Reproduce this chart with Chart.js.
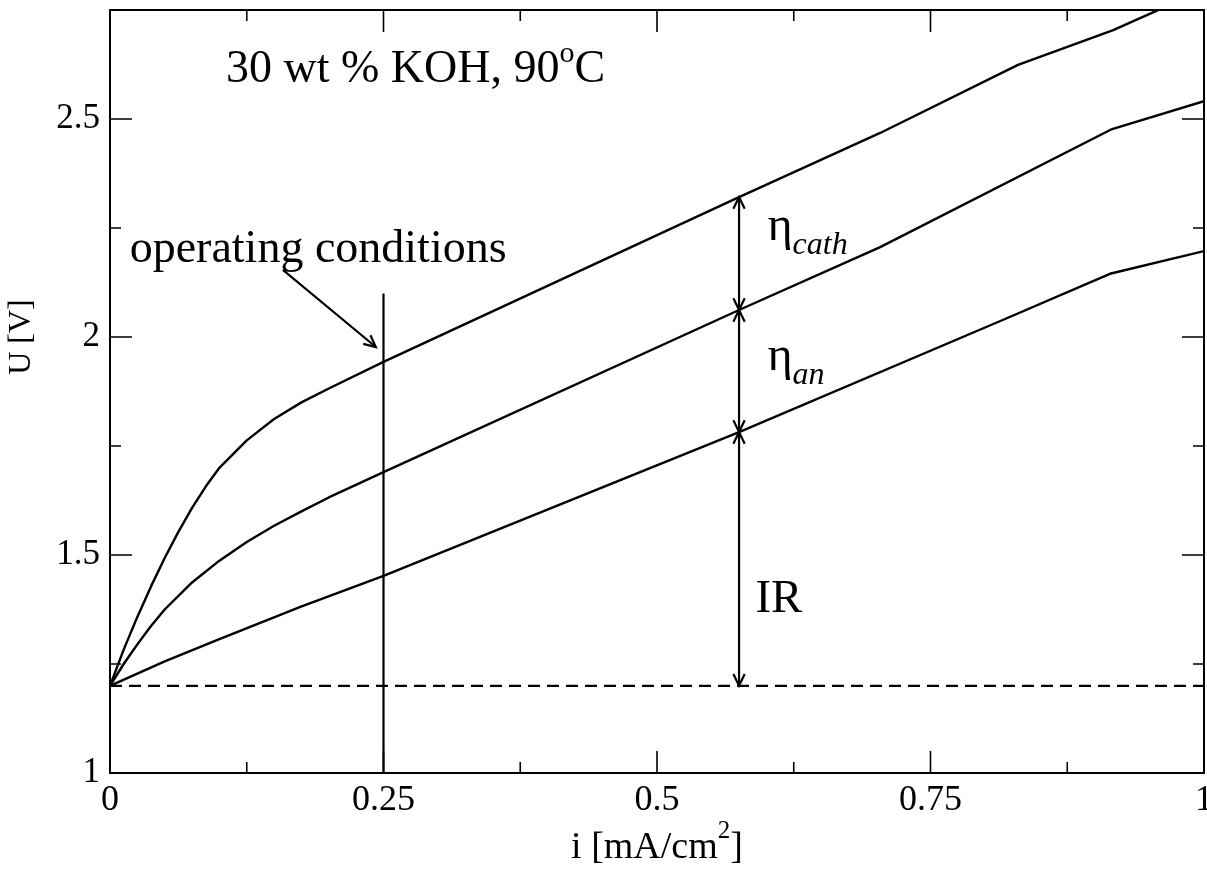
<!DOCTYPE html>
<html><head><meta charset="utf-8">
<script src="https://cdn.jsdelivr.net/npm/chart.js@4.4.1/dist/chart.umd.min.js"></script>
<style>html,body{margin:0;padding:0;background:#fff}#wrap{width:1207px;height:869px}</style>
</head><body><div id="wrap"><canvas id="c" width="1207" height="869"></canvas></div>
<script>
// ---- data ----
const curveTopI = [0, 0.0125, 0.025, 0.0375, 0.05, 0.0625, 0.075, 0.0875, 0.1, 0.125, 0.15, 0.175, 0.2, 0.25, 0.575, 0.704, 0.83, 0.917, 0.96];
const curveTopU = [1.2, 1.283, 1.358, 1.428, 1.493, 1.553, 1.608, 1.657, 1.70, 1.763, 1.812, 1.85, 1.882, 1.943, 2.321, 2.468, 2.624, 2.704, 2.752];
const curveMidI = [0, 0.0125, 0.025, 0.0375, 0.05, 0.075, 0.1, 0.125, 0.15, 0.175, 0.2, 0.25, 0.575, 0.704, 0.916, 1.0];
const curveMidU = [1.2, 1.25, 1.295, 1.337, 1.375, 1.437, 1.487, 1.53, 1.567, 1.6, 1.632, 1.69, 2.062, 2.206, 2.477, 2.541];
const curveLowI = [0, 0.05, 0.1, 0.174, 0.25, 0.575, 0.816, 0.914, 1.0];
const curveLowU = [1.2, 1.256, 1.307, 1.381, 1.452, 1.782, 2.039, 2.145, 2.197];
const reversibleU = 1.2;                 // dashed line
const operatingI = 0.25;                 // vertical line
const operatingLineU = [1.0, 2.1];
const opArrowI = [0.158, 0.243];         // "operating conditions" arrow
const opArrowU = [2.154, 1.977];
const markerI = 0.575;                   // double arrows position
const levelU = [1.2, 1.782, 2.062, 2.321];
const xTicks = [0, 0.25, 0.5, 0.75, 1];
const yTicks = [1, 1.5, 2, 2.5];
const xTickLabels = ['0', '0.25', '0.5', '0.75', '1'];
const yTickLabels = ['1', '1.5', '2', '2.5'];
const titleText = ['30 wt % KOH, 90', 'o', 'C'];
const titlePos = [0.106, 2.585];
const opText = 'operating conditions';
const opTextPos = [0.018, 2.172];
const etaCathPos = [0.601, 2.222];
const etaAnPos = [0.601, 1.924];
const irPos = [0.590, 1.369];
const xTitle = ['i [mA/cm', '2', ']'];
const xTitlePos = [0.5, 0.805];
const yTitle = 'U [V]';
const yTitlePos = [-0.0804, 2.0];

const SERIF = '"Liberation Serif", "Times New Roman", "DejaVu Serif", serif';
const pts = (xs, ys) => xs.map((x, i) => ({x, y: ys[i]}));

const annot = {
  id: 'annot',
  afterDatasetsDraw(chart) {
    const ctx = chart.ctx, xs = chart.scales.x, ys = chart.scales.y, a = chart.chartArea;
    const X = v => xs.getPixelForValue(v), Y = v => ys.getPixelForValue(v);
    ctx.save();
    ctx.strokeStyle = '#000'; ctx.fillStyle = '#000';
    // frame
    ctx.lineWidth = 2;
    ctx.strokeRect(a.left, a.top, a.right - a.left, a.bottom - a.top);
    // inward ticks on all four sides
    ctx.lineWidth = 1.6;
    ctx.beginPath();
    for (let k = 1; k < 8; k++) {
      const v = k * 0.125, len = (k % 2 === 0) ? 22 : 11, px = X(v);
      ctx.moveTo(px, a.bottom); ctx.lineTo(px, a.bottom - len);
      ctx.moveTo(px, a.top); ctx.lineTo(px, a.top + len);
    }
    for (let k = 1; k < 7; k++) {
      const v = 1 + k * 0.25, len = (k % 2 === 0) ? 22 : 11, py = Y(v);
      ctx.moveTo(a.left, py); ctx.lineTo(a.left + len, py);
      ctx.moveTo(a.right, py); ctx.lineTo(a.right - len, py);
    }
    ctx.stroke();
    // arrowhead helper (open V)
    const head = (x, y, ang) => {
      const L = 13, w = 0.45;
      ctx.beginPath();
      ctx.moveTo(x - L * Math.cos(ang - w), y - L * Math.sin(ang - w));
      ctx.lineTo(x, y);
      ctx.lineTo(x - L * Math.cos(ang + w), y - L * Math.sin(ang + w));
      ctx.stroke();
    };
    ctx.lineWidth = 2.2;
    // double arrows
    const mx = X(markerI);
    ctx.beginPath(); ctx.moveTo(mx, Y(levelU[0])); ctx.lineTo(mx, Y(levelU[3])); ctx.stroke();
    for (let k = 0; k < levelU.length; k++) {
      const py = Y(levelU[k]);
      if (k > 0) head(mx, py, -Math.PI / 2);
      if (k < levelU.length - 1) head(mx, py, Math.PI / 2);
    }
    // operating conditions arrow
    const x0 = X(opArrowI[0]), y0 = Y(opArrowU[0]), x1 = X(opArrowI[1]), y1 = Y(opArrowU[1]);
    ctx.beginPath(); ctx.moveTo(x0, y0); ctx.lineTo(x1, y1); ctx.stroke();
    head(x1, y1, Math.atan2(y1 - y0, x1 - x0));
    // texts
    ctx.textBaseline = 'alphabetic'; ctx.textAlign = 'left';
    const runs = (x, y, list, center) => {
      if (center) {
        let w = 0;
        for (const r of list) { ctx.font = r.font; w += ctx.measureText(r.t).width; }
        x -= w / 2;
      }
      for (const r of list) {
        ctx.font = r.font;
        ctx.fillText(r.t, x, y + (r.dy || 0));
        x += ctx.measureText(r.t).width;
      }
    };
    runs(X(titlePos[0]), Y(titlePos[1]), [
      {t: titleText[0], font: '46px ' + SERIF},
      {t: titleText[1], font: '30px ' + SERIF, dy: -20},
      {t: titleText[2], font: '46px ' + SERIF}
    ]);
    runs(X(opTextPos[0]), Y(opTextPos[1]), [{t: opText, font: '46px ' + SERIF}]);
    runs(X(etaCathPos[0]), Y(etaCathPos[1]), [
      {t: 'η', font: '48px ' + SERIF},
      {t: 'cath', font: 'italic 32px ' + SERIF, dy: 14}
    ]);
    runs(X(etaAnPos[0]), Y(etaAnPos[1]), [
      {t: 'η', font: '48px ' + SERIF},
      {t: 'an', font: 'italic 32px ' + SERIF, dy: 14}
    ]);
    runs(X(irPos[0]), Y(irPos[1]), [{t: 'IR', font: '47px ' + SERIF}]);
    // axis titles
    runs(X(xTitlePos[0]), Y(xTitlePos[1]), [
      {t: xTitle[0], font: '38px ' + SERIF},
      {t: xTitle[1], font: '25px ' + SERIF, dy: -20},
      {t: xTitle[2], font: '38px ' + SERIF}
    ], true);
    ctx.save();
    ctx.translate(X(yTitlePos[0]), Y(yTitlePos[1]));
    ctx.rotate(-Math.PI / 2);
    ctx.textAlign = 'center'; ctx.textBaseline = 'middle';
    ctx.font = '32px ' + SERIF;
    ctx.fillText(yTitle, 0, 0);
    ctx.restore();
    ctx.restore();
  }
};

const lineDs = (data, extra) => Object.assign({
  data, borderColor: '#000', borderWidth: 2.4, pointRadius: 0, fill: false, tension: 0,
  borderJoinStyle: 'round'
}, extra || {});

new Chart(document.getElementById('c'), {
  type: 'line',
  data: {
    datasets: [
      lineDs(pts(curveTopI, curveTopU)),
      lineDs(pts(curveMidI, curveMidU)),
      lineDs(pts(curveLowI, curveLowU)),
      lineDs(pts([0, 1], [reversibleU, reversibleU]), {borderDash: [12, 7], borderWidth: 2.2}),
      lineDs(pts([operatingI, operatingI], operatingLineU), {borderWidth: 2.2})
    ]
  },
  options: {
    responsive: false, animation: false, devicePixelRatio: 1,
    layout: {padding: {top: 10, right: 3, left: 0, bottom: 0}},
    plugins: {legend: {display: false}, tooltip: {enabled: false}},
    scales: {
      x: {
        type: 'linear', min: 0, max: 1,
        grid: {display: false, drawTicks: false}, border: {display: false},
        afterBuildTicks: s => { s.ticks = xTicks.map(v => ({value: v})); },
        ticks: {
          callback: (v) => xTickLabels[xTicks.indexOf(v)] ?? '',
          font: {family: SERIF, size: 36}, color: '#000', padding: 6, maxRotation: 0, autoSkip: false
        },
        title: {display: false},
        afterFit: s => { s.height = 96; s.paddingLeft = 0; s.paddingRight = 0; }
      },
      y: {
        type: 'linear', min: 1, max: 2.75,
        grid: {display: false, drawTicks: false}, border: {display: false},
        afterBuildTicks: s => { s.ticks = yTicks.map(v => ({value: v})); },
        ticks: {
          callback: (v) => yTickLabels[yTicks.indexOf(v)] ?? '',
          font: {family: SERIF, size: 35}, color: '#000', padding: 10, autoSkip: false
        },
        title: {display: false},
        afterFit: s => { s.width = 110; s.paddingTop = 0; s.paddingBottom = 0; }
      }
    }
  },
  plugins: [annot]
});
</script>
</body></html>
